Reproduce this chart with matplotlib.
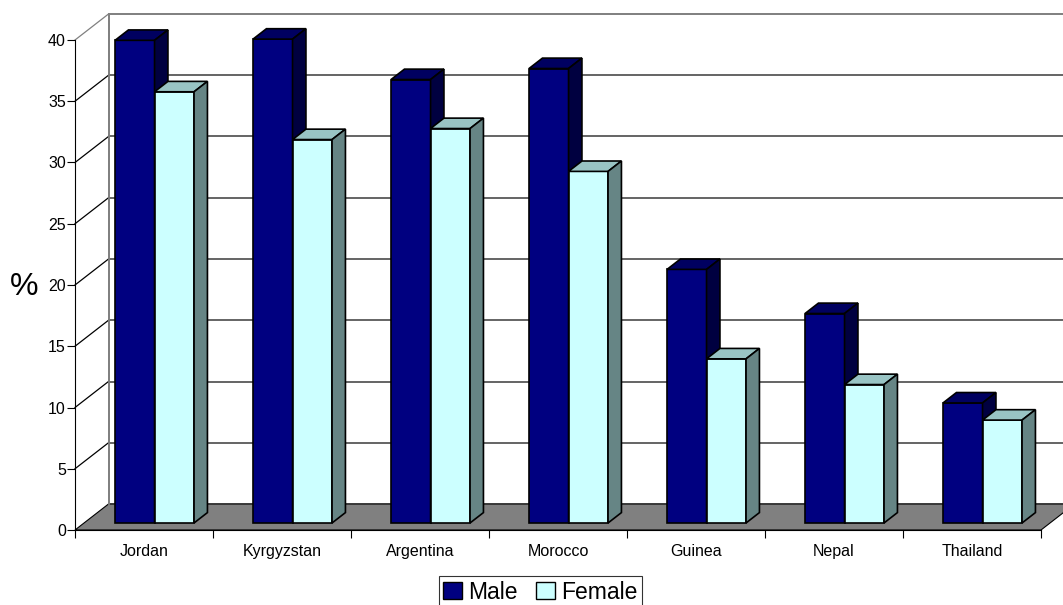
import matplotlib.pyplot as plt
from matplotlib.patches import Polygon, Patch

plt.rcParams['font.family'] = ['Liberation Sans', 'DejaVu Sans']

# data
countries = ['Jordan', 'Kyrgyzstan', 'Argentina', 'Morocco', 'Guinea', 'Nepal', 'Thailand']
male = [39.4, 39.5, 36.2, 37.1, 20.7, 17.1, 9.8]
female = [35.2, 31.3, 32.2, 28.7, 13.4, 11.3, 8.4]
y_ticks = [0, 5, 10, 15, 20, 25, 30, 35, 40]

male_cols = ('#000080', '#000060', '#000040')      # front, top, side
female_cols = ('#ccffff', '#99c4c4', '#668585')

W, H = 1063, 605
sx, sy = 138.0, 12.25          # pixels per category / per value unit
x0px, y0px = 75, 530           # front-axis origin in pixels
DX, DY = 33.5 / sx, 26 / sy    # full depth offset in data units
z0, zd = 0.27, 0.4             # bar front depth and bar depth (fractions)
bw = 39.5 / sx                 # bar width

fig = plt.figure(figsize=(W / 100, H / 100), dpi=100)
ax = fig.add_axes([0, 0, 1, 1])
ax.set_xlim(-x0px / sx, (W - x0px) / sx)
ax.set_ylim(-(H - y0px) / sy, y0px / sy)
n = len(countries)
ymax = y_ticks[-1]

# floor
ax.add_patch(Polygon([(0, 0), (n, 0), (n + DX, DY), (DX, DY)],
                     closed=True, fc='#808080', ec='black', lw=0.8, zorder=1))
# back wall
ax.add_patch(Polygon([(DX, DY), (n + DX, DY), (n + DX, ymax + DY), (DX, ymax + DY)],
                     closed=True, fc='white', ec='#808080', lw=1.3, zorder=0.9))
# gridlines on back wall and side wall
for v in y_ticks[1:]:
    c = '#808080' if v == ymax else '#3a3a3a'
    ax.plot([DX, n + DX], [v + DY, v + DY], color=c, lw=1.1, zorder=1.1)
    ax.plot([0, DX], [v, v + DY], color=c if v == ymax else 'black', lw=0.9, zorder=1.1)
ax.plot([DX, DX], [DY, ymax + DY], color='#808080', lw=1.3, zorder=1.2)


def draw_bars(vals, lefts, cols, z):
    b = z0 * DY
    ax.bar(lefts, vals, width=bw, bottom=b, align='edge', color=cols[0],
           edgecolor='black', linewidth=1.2, zorder=z)
    dx, dy = zd * DX, zd * DY
    for xl, v in zip(lefts, vals):
        xr = xl + bw
        top = [(xl, v + b), (xr, v + b), (xr + dx, v + b + dy), (xl + dx, v + b + dy)]
        side = [(xr, b), (xr, v + b), (xr + dx, v + b + dy), (xr + dx, b + dy)]
        ax.add_patch(Polygon(top, closed=True, fc=cols[1], ec='black', lw=1.2, zorder=z))
        ax.add_patch(Polygon(side, closed=True, fc=cols[2], ec='black', lw=1.2, zorder=z))


centers = [i + 0.5 + z0 * DX + 1.5 / sx for i in range(n)]
draw_bars(male, [c - bw for c in centers], male_cols, 3)
draw_bars(female, centers, female_cols, 4)

# axes
for s in ['top', 'right']:
    ax.spines[s].set_visible(False)
ax.spines['left'].set_position(('data', 0))
ax.spines['left'].set_bounds(0, ymax)
ax.spines['bottom'].set_position(('data', 0))
ax.spines['bottom'].set_bounds(0, n)
ax.spines['left'].set_zorder(5)
ax.spines['bottom'].set_zorder(5)
ax.set_yticks(y_ticks)
ax.tick_params(axis='y', direction='out', length=5.5, width=0.8, pad=1, labelsize=11.5)
ax.set_xticks(range(n + 1))
ax.set_xticklabels([])
ax.set_xticks([i + 0.5 for i in range(n)], minor=True)
ax.set_xticklabels(countries, minor=True)
ax.tick_params(axis='x', which='major', direction='out', length=6, width=0.8)
ax.tick_params(axis='x', which='minor', length=0, pad=10, labelsize=11.5)

fig.text(24 / W, 1 - 287 / H, '%', fontsize=23, ha='center', va='center')

leg = fig.legend(handles=[Patch(fc=male_cols[0], ec='black'), Patch(fc=female_cols[0], ec='black')],
                 labels=['Male', 'Female'], loc='upper center',
                 bbox_to_anchor=(540.5 / W, 1 - 576 / H), ncol=2, frameon=True,
                 fancybox=False, edgecolor='black', fontsize=16.5, handlelength=0.8,
                 handleheight=0.8, handletextpad=0.3, columnspacing=0.8,
                 borderpad=0.2, borderaxespad=0)
leg.get_frame().set_linewidth(0.8)

plt.savefig('out.png', dpi=100)
